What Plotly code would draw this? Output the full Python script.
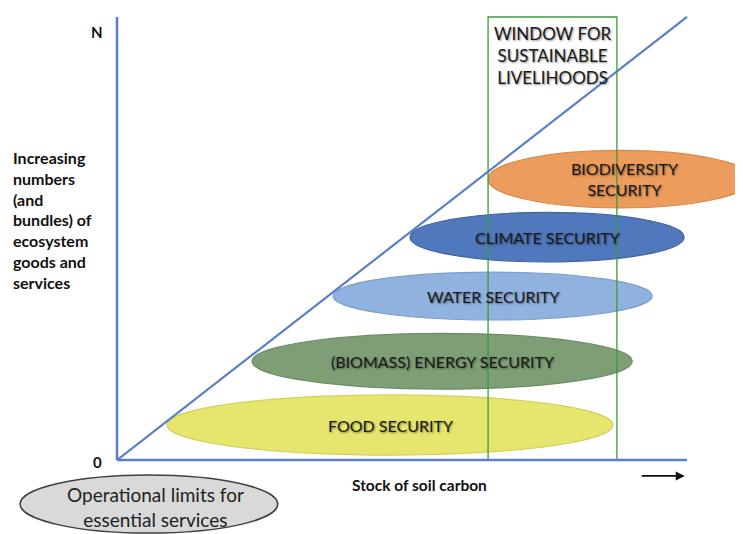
import plotly.graph_objects as go

# ---- data (diagram units: x = stock of soil carbon 0..10, y = number of services 0..10) ----
services = ["FOOD SECURITY", "(BIOMASS) ENERGY SECURITY", "WATER SECURITY",
            "CLIMATE SECURITY", "BIODIVERSITY<br>SECURITY"]
service_x_start = [0.88, 2.37, 3.79, 5.14, 6.51]
service_x_end = [8.70, 9.04, 9.39, 9.95, 11.15]
service_level = [0.79, 2.23, 3.70, 5.03, 6.34]
window_x = [6.51, 8.77]
diagonal_x = [0, 10]
diagonal_y = [0, 10]
axis_max = 10

# ---- styles ----
fills = ["#e6e66f", "#7e9f76", "#8fb2de", "#5078bd", "#ec9c5c"]
edges = ["#d2d25a", "#6d8c66", "#7b9dcb", "#43659f", "#d98848"]
half_h = [0.68, 0.63, 0.54, 0.56, 0.65]
blue = "#5a7fc6"
green = "#3c9a3c"
FONT = "Lato, Carlito, 'Liberation Sans Narrow', sans-serif"
shadow = "1px 1px 2px rgba(0,0,0,0.45)"

fig = go.Figure()

shapes = []
for i in range(len(services)):
    shapes.append(dict(type="circle", xref="x", yref="y",
                       x0=service_x_start[i], x1=service_x_end[i],
                       y0=service_level[i] - half_h[i], y1=service_level[i] + half_h[i],
                       fillcolor=fills[i], line=dict(color=edges[i], width=1.2), layer="below"))

# operational limits ellipse
shapes.append(dict(type="circle", xref="x", yref="y", x0=-1.70, x1=2.82, y0=-1.65, y1=-0.34,
                   fillcolor="#d9d9d9", line=dict(color="#3f3f3f", width=1.5), layer="below"))

# window rectangle
shapes.append(dict(type="rect", xref="x", yref="y", x0=window_x[0], x1=window_x[1],
                   y0=0, y1=axis_max, line=dict(color=green, width=1.3), layer="above"))

# axes lines
shapes.append(dict(type="line", xref="x", yref="y", x0=0, x1=0, y0=0, y1=axis_max,
                   line=dict(color=blue, width=2.5), layer="above"))
shapes.append(dict(type="line", xref="x", yref="y", x0=0, x1=10.0, y0=0, y1=0,
                   line=dict(color=blue, width=2.5), layer="above"))

fig.add_trace(go.Scatter(x=diagonal_x, y=diagonal_y, mode="lines",
                         line=dict(color=blue, width=2.2), hoverinfo="skip", showlegend=False))

annotations = []
for i, s in enumerate(services):
    cx = (service_x_start[i] + service_x_end[i]) / 2
    if i == 4:
        cx = 8.9
    annotations.append(dict(x=cx, y=service_level[i], xref="x", yref="y", text=s,
                            showarrow=False, font=dict(family=FONT, size=16, color="#1a1a1a",
                                                       shadow=shadow)))

annotations += [
    dict(x=(window_x[0] + window_x[1]) / 2, y=9.9, xref="x", yref="y",
         text="WINDOW FOR<br>SUSTAINABLE<br>LIVELIHOODS", showarrow=False, yanchor="top",
         font=dict(family=FONT, size=17, color="#1a1a1a", shadow=shadow)),
    dict(x=-0.35, y=9.66, xref="x", yref="y", text="<b>N</b>", showarrow=False,
         font=dict(family=FONT, size=15, color="#111")),
    dict(x=-0.35, y=-0.05, xref="x", yref="y", text="<b>0</b>", showarrow=False,
         font=dict(family=FONT, size=15, color="#111")),
    dict(x=3 / 735, y=5.42, xref="paper", yref="y", xanchor="left", align="left",
         text="<b>Increasing<br>numbers<br>(and<br>bundles) of<br>ecosystem<br>goods and<br>services</b>",
         showarrow=False, font=dict(family=FONT, size=16, color="#111")),
    dict(x=5.3, y=-0.56, xref="x", yref="y", text="<b>Stock of soil carbon</b>",
         showarrow=False, font=dict(family=FONT, size=15.5, color="#111")),
    dict(x=0.68, y=-1.06, xref="x", yref="y", text="Operational limits for<br>essential services",
         showarrow=False, font=dict(family=FONT, size=19, color="#222")),
    dict(x=9.96, y=-0.36, ax=9.18, ay=-0.36, xref="x", yref="y", axref="x", ayref="y",
         text="", showarrow=True, arrowhead=2, arrowsize=1, arrowwidth=1.8, arrowcolor="#111"),
]

fig.update_layout(
    width=735, height=526,
    margin=dict(l=0, r=0, t=0, b=0),
    paper_bgcolor="white", plot_bgcolor="white",
    xaxis=dict(range=[-1.912, 10.982], visible=False, fixedrange=True),
    yaxis=dict(range=[-1.670, 10.203], visible=False, fixedrange=True),
    shapes=shapes, annotations=annotations, showlegend=False,
)

fig.write_html("out.html")
